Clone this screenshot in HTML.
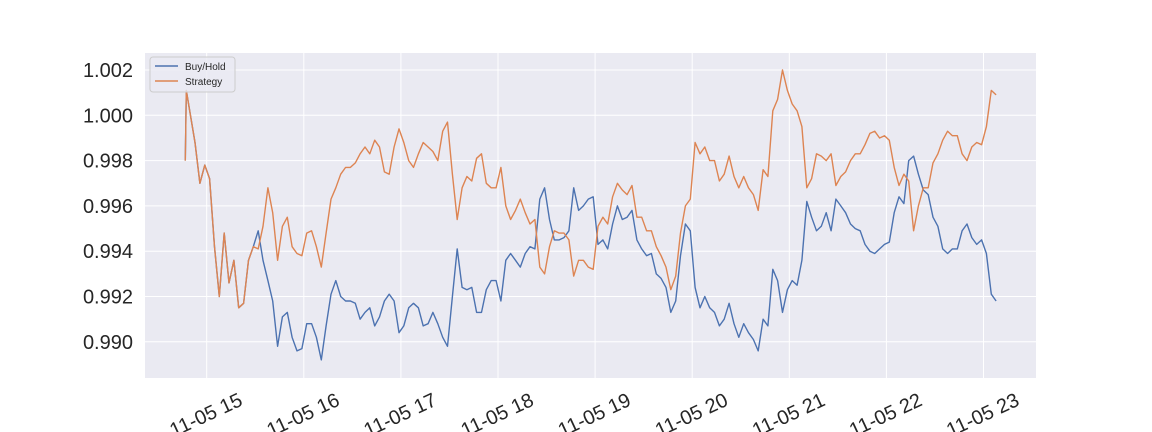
<!DOCTYPE html>
<html><head><meta charset="utf-8"><style>
html,body{margin:0;padding:0;background:#fff;}
svg{display:block;font-family:"Liberation Sans","DejaVu Sans",sans-serif;}
</style></head><body>
<svg id="chart" width="1152" height="432" xmlns="http://www.w3.org/2000/svg">
<rect x="145" y="53" width="891" height="325" fill="#eaeaf2"/>
<g id="grid"></g>
<g id="yticks"></g>
<g id="xticks"></g>
<g id="series"></g>
<g>
<rect x="150" y="57" width="85" height="35" rx="3" fill="#eaeaf2" fill-opacity="0.8" stroke="#cccccc"/>
<g><line x1="155" y1="66" x2="178" y2="66" stroke="#4c72b0" stroke-width="1.5"/><text x="185" y="70" font-size="10" fill="#262626">Buy/Hold</text></g>
<g><line x1="155" y1="81" x2="178" y2="81" stroke="#dd8452" stroke-width="1.5"/><text x="185" y="85" font-size="10" fill="#262626">Strategy</text></g>
</g>
</svg>
<script>
const startHour = 14.78;
const stepHour = 0.05;
const xTickHours = [15,16,17,18,19,20,21,22,23];
const xTickLabels = ["11-05 15","11-05 16","11-05 17","11-05 18","11-05 19","11-05 20","11-05 21","11-05 22","11-05 23"];
const yTickValues = [0.990,0.992,0.994,0.996,0.998,1.000,1.002];
const yTickLabels = ["0.990","0.992","0.994","0.996","0.998","1.000","1.002"];
const strategy = [0.9980,1.0011,0.9988,0.9970,0.9978,0.9972,0.9942,0.9920,0.9948,0.9926,0.9936,0.9915,0.9917,0.9936,0.9942,
0.9941,0.9951,0.9968,0.9957,0.9936,0.9951,0.9955,0.9942,0.9939,0.9938,0.9948,0.9949,0.9942,0.9933,0.9948,
0.9963,0.9968,0.9974,0.9977,0.9977,0.9979,0.9983,0.9986,0.9983,0.9989,0.9986,0.9975,0.9974,
0.9986,0.9994,0.9988,0.9980,0.9977,0.9983,0.9988,0.9986,0.9984,0.9980,0.9993,0.9997,0.9974,0.9954,0.9968,0.9973,
0.9971,0.9981,0.9983,0.9970,0.9968,0.9968,0.9977,0.9960,0.9954,0.9958,0.9963,0.9957,0.9952,0.9954,0.9933,0.9930,
0.9942,0.9949,0.9948,0.9948,0.9945,0.9929,0.9936,0.9936,0.9933,
0.9932,0.9951,0.9955,0.9952,0.9964,0.9970,0.9967,0.9965,0.9969,0.9955,0.9955,0.9949,0.9949,0.9942,0.9938,0.9933,
0.9923,0.9929,0.9948,0.9960,0.9963,0.9988,0.9983,0.9986,0.9980,0.9980,0.9971,0.9974,0.9982,0.9973,0.9968,0.9973,
0.9968,0.9965,0.9958,0.9976,0.9973,1.0002,1.0007,1.0020,1.0011,1.0005,1.0002,
0.9995,0.9968,0.9972,0.9983,0.9982,0.9980,0.9983,0.9969,0.9973,0.9975,0.9980,0.9983,0.9983,0.9987,0.9992,0.9993,
0.9990,0.9991,0.9989,0.9977,0.9969,0.9974,0.9971,0.9949,0.9960,0.9968,0.9968,0.9979,0.9983,0.9989,0.9993,0.9991,
0.9991,0.9983,0.9980,0.9986,0.9988,0.9987,0.9995,1.0011,1.0009];
const buyHold = [0.9980,1.0011,0.9988,0.9970,0.9978,0.9972,0.9942,0.9920,0.9948,0.9926,0.9936,0.9915,0.9917,0.9936,0.9942,
0.9949,0.9936,0.9927,0.9918,0.9898,0.9911,0.9913,0.9902,0.9896,0.9897,0.9908,0.9908,0.9902,0.9892,0.9907,
0.9921,0.9927,0.9920,0.9918,0.9918,0.9917,0.9910,0.9913,0.9915,0.9907,0.9911,0.9918,0.9921,
0.9918,0.9904,0.9907,0.9915,0.9917,0.9915,0.9907,0.9908,0.9913,0.9908,0.9902,0.9898,0.9920,0.9941,0.9924,0.9923,
0.9924,0.9913,0.9913,0.9923,0.9927,0.9927,0.9918,0.9936,0.9939,0.9936,0.9933,0.9939,0.9942,0.9941,0.9963,0.9968,
0.9954,0.9945,0.9945,0.9946,0.9949,0.9968,0.9958,0.9960,0.9963,
0.9964,0.9943,0.9945,0.9941,0.9952,0.9960,0.9954,0.9955,0.9958,0.9945,0.9941,0.9938,0.9939,0.9930,0.9928,0.9924,
0.9913,0.9918,0.9938,0.9952,0.9949,0.9924,0.9915,0.9920,0.9915,0.9913,0.9907,0.9910,0.9917,0.9908,0.9902,0.9908,
0.9904,0.9901,0.9896,0.9910,0.9907,0.9932,0.9927,0.9913,0.9923,0.9927,0.9925,
0.9936,0.9962,0.9955,0.9949,0.9951,0.9957,0.9949,0.9963,0.9960,0.9957,0.9952,0.9950,0.9949,0.9943,0.9940,0.9939,
0.9941,0.9943,0.9944,0.9957,0.9964,0.9961,0.9980,0.9982,0.9974,0.9967,0.9965,0.9955,0.9951,0.9941,0.9939,0.9941,
0.9941,0.9949,0.9952,0.9946,0.9943,0.9945,0.9939,0.9921,0.9918];

const NS = "http://www.w3.org/2000/svg";
function xScale(h){ return 206.7 + (h - 15) * 97.1; }
function yScale(v){ return 115.3 - (v - 1.0) / 0.002 * 45.3; }
function mk(tag, attrs, parent){ const e = document.createElementNS(NS, tag); for (const k in attrs) e.setAttribute(k, attrs[k]); parent.appendChild(e); return e; }

const grid = document.getElementById('grid');
const yt = document.getElementById('yticks');
const xt = document.getElementById('xticks');
yTickValues.forEach((v, i) => {
  const y = yScale(v);
  const gl = mk('line', {x1:145, x2:1036, y1:y, y2:y, stroke:'#ffffff', 'stroke-width':1}, grid);
  
  
  const t = mk('text', {x:133, y:y + 7, 'text-anchor':'end', 'font-size':20, fill:'#262626'}, yt);
  t.textContent = yTickLabels[i];
  
  
});
xTickHours.forEach((h, i) => {
  const x = xScale(h);
  const gl = mk('line', {x1:x, x2:x, y1:53, y2:378, stroke:'#ffffff', 'stroke-width':1}, grid);
  
  
  const t = mk('text', {x:0, y:0, 'text-anchor':'middle', 'font-size':20, fill:'#262626', transform:'translate(' + (x + 2) + ',' + 421 + ') rotate(-25)'}, xt);
  t.textContent = xTickLabels[i];
  
  
});
function drawLine(vals, color, name){
  const pts = vals.map((v, i) => {
    const t = i === 1 ? startHour + 0.01 : startHour + i * stepHour;
    return xScale(t).toFixed(1) + ',' + yScale(v).toFixed(1);
  }).join(' ');
  const p = mk('polyline', {points:pts, fill:'none', stroke:color, 'stroke-width':1.4, 'stroke-linejoin':'round'}, document.getElementById('series'));
  
  
}
drawLine(buyHold, '#4c72b0', 'buyhold-line');
drawLine(strategy, '#dd8452', 'strategy-line');
</script>
</body></html>
